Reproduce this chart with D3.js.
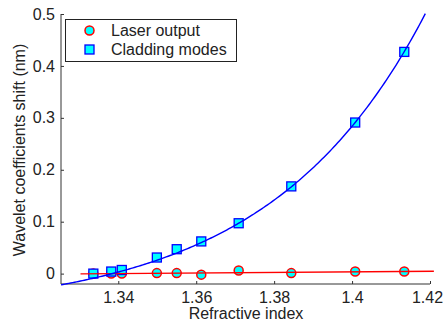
<!DOCTYPE html>
<html>
<meta charset="utf-8" />
<style>
	html, body { margin: 0; padding: 0; background: #fff; }
	text { font-family: "Liberation Sans", Arial, sans-serif; font-size: 16px; fill: #222; }
	.axis path, .axis line { stroke: #333; }
</style>
<svg width="444" height="325"></svg>
<script src="https://d3js.org/d3.v7.min.js"></script>
<script>
	var ri = [1.3336, 1.3382, 1.3409, 1.3499, 1.355, 1.3613, 1.3709, 1.3844, 1.4008, 1.4134];
	var laser = [0.0, 0.0, 0.0, 0.001, 0.001, -0.002, 0.006, 0.001, 0.004, 0.004];
	var cladding = [0.0, 0.004, 0.007, 0.031, 0.047, 0.062, 0.097, 0.168, 0.291, 0.427];
	var xTicks = [1.34, 1.36, 1.38, 1.4, 1.42];
	var yTicks = [0, 0.1, 0.2, 0.3, 0.4, 0.5];
	// exponential fit of cladding modes: a*exp(b*(x - x0)) + c
	var expFit = { a: 0.0628, b: 25, x0: 1.33, c: -0.0776 };
	var laserRange = [1.3303, 1.421];

	var svg = d3.select("svg");
	var x = d3.scaleLinear().domain([1.3253, 1.42]).range([61, 430]);
	var y = d3.scaleLinear().domain([-0.02, 0.5]).range([284, 14]);

	// axes (ticks inward, matlab style)
	svg.append("g").attr("class", "axis")
		.attr("transform", "translate(0,284)")
		.call(d3.axisBottom(x).tickValues(xTicks).tickSize(-3).tickPadding(8).tickFormat(d3.format("")))
		.call(function (g) {
			g.select(".domain").attr("d", "M61,0H430");
			// last label sits at the very edge, nudge it in
			g.selectAll(".tick text").filter(function (d) { return d === 1.42; }).attr("dx", -3);
		});
	svg.append("g").attr("class", "axis")
		.attr("transform", "translate(61,0)")
		.call(d3.axisLeft(y).tickValues(yTicks).tickSize(-3).tickPadding(6).tickFormat(d3.format("")))
		.call(function (g) { g.select(".domain").attr("d", "M0,14V284"); });
	svg.selectAll(".axis text").style("font-size", "16px").attr("fill", "#222");

	svg.append("text").attr("x", 246).attr("y", 319).attr("text-anchor", "middle").text("Refractive index");
	svg.append("text").attr("transform", "translate(25,150) rotate(-90)").attr("text-anchor", "middle")
		.text("Wavelet coefficients shift (nm)");

	// markers
	svg.append("g").selectAll("circle").data(ri).enter().append("circle")
		.attr("cx", function (d) { return x(d); })
		.attr("cy", function (d, i) { return y(laser[i]); })
		.attr("r", 4.5).attr("fill", "#00ffff").attr("stroke", "#ff0000").attr("stroke-width", 1.5);
	svg.append("g").selectAll("rect").data(ri).enter().append("rect")
		.attr("x", function (d) { return x(d) - 4.5; })
		.attr("y", function (d, i) { return y(cladding[i]) - 4.5; })
		.attr("width", 9).attr("height", 9).attr("fill", "#00ffff").attr("stroke", "#0000ff").attr("stroke-width", 1.3);

	// linear fit of laser output
	var mx = d3.mean(ri), my = d3.mean(laser);
	var slope = d3.sum(ri, function (d, i) { return (d - mx) * (laser[i] - my); }) / d3.sum(ri, function (d) { return (d - mx) * (d - mx); });
	var line = d3.line().x(function (d) { return x(d[0]); }).y(function (d) { return y(d[1]); });
	svg.append("path")
		.attr("d", line(laserRange.map(function (v) { return [v, my + slope * (v - mx)]; })))
		.attr("fill", "none").attr("stroke", "#ff0000").attr("stroke-width", 1.4);

	var curve = d3.range(1.3253, 1.4189, 0.0005).map(function (v) {
		return [v, expFit.a * Math.exp(expFit.b * (v - expFit.x0)) + expFit.c];
	});
	svg.append("path").attr("d", line(curve))
		.attr("fill", "none").attr("stroke", "#0000ff").attr("stroke-width", 1.4);

	// legend
	var lg = svg.append("g");
	lg.append("rect").attr("x", 65.5).attr("y", 19.5).attr("width", 171).attr("height", 42)
		.attr("fill", "#fff").attr("stroke", "#222");
	lg.append("circle").attr("cx", 89.5).attr("cy", 30.5).attr("r", 4.5)
		.attr("fill", "#00ffff").attr("stroke", "#ff0000").attr("stroke-width", 1.5);
	lg.append("rect").attr("x", 85).attr("y", 45).attr("width", 9).attr("height", 9)
		.attr("fill", "#00ffff").attr("stroke", "#0000ff").attr("stroke-width", 1.3);
	lg.append("text").attr("x", 111).attr("y", 36).text("Laser output");
	lg.append("text").attr("x", 111).attr("y", 55).text("Cladding modes");
</script>
</html>
